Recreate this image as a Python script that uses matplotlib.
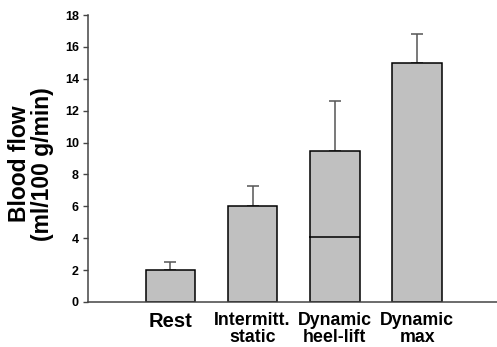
import matplotlib
matplotlib.use("Agg")
import matplotlib.pyplot as plt

categories = ["Rest", "Intermitt.\nstatic", "Dynamic\nheel-lift", "Dynamic\nmax"]
values = [2.0, 6.0, 9.5, 15.0]
errors = [0.5, 1.3, 3.1, 1.8]
heel_lift_marker = 4.1
yticks = [0, 2, 4, 6, 8, 10, 12, 14, 16, 18]

plt.rcParams['font.family'] = ['Liberation Sans', 'DejaVu Sans']
plt.rcParams['font.weight'] = 'bold'

fig = plt.figure(figsize=(4.97, 3.47), dpi=100)
ax = fig.add_axes([88/497, 45/347, 1 - 88/497, 287/347])

x = list(range(len(categories)))
ax.bar(x, values, width=0.6, color='#c0c0c0', edgecolor='black', linewidth=1.1, zorder=2)
ax.errorbar(x, values, yerr=[[0]*len(errors), errors], fmt='none', ecolor='#555555',
            elinewidth=1.1, capsize=4.5, capthick=1.1, zorder=1)
ax.hlines(heel_lift_marker, 2 - 0.32, 2 + 0.3, color='black', linewidth=1.1, zorder=3)

ax.set_xlim(-1, 3.97)
ax.set_ylim(0, 18)
ax.set_yticks(yticks)
ax.set_yticklabels([str(t) for t in yticks], fontsize=9, fontweight='bold')
ax.set_xticks(x)
ax.set_xticklabels(categories, fontsize=12.8, fontweight='bold', linespacing=1.05)
ax.get_xticklabels()[0].set_fontsize(14.5)
ax.tick_params(axis='x', length=0, pad=7)
ax.tick_params(axis='y', direction='out', length=3.5, width=1, color='#444444', pad=3)

for s in ['top', 'right']:
    ax.spines[s].set_visible(False)
for s in ['left', 'bottom']:
    ax.spines[s].set_color('#444444')
    ax.spines[s].set_linewidth(1.1)

ax.set_ylabel("Blood flow\n(ml/100 g/min)", fontsize=16.5, fontweight='bold', linespacing=1.0)
ax.yaxis.set_label_coords((54 - 88) / (497 - 88), 0.48)

fig.savefig("out.png", dpi=100)
